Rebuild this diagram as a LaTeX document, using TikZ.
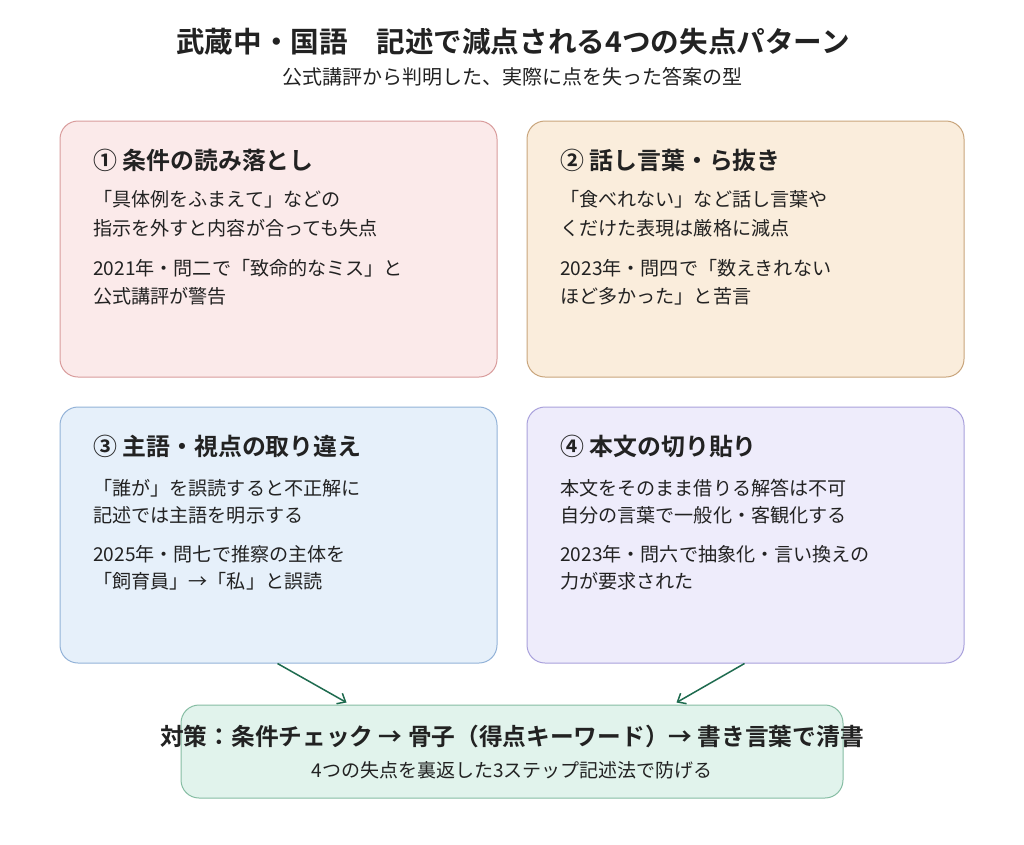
\documentclass[tikz,border=0pt]{standalone}
\usepackage{fontspec}
\setmainfont{Noto Sans CJK JP}[BoldFont={Noto Sans CJK JP Bold}]
\usetikzlibrary{arrows.meta,calc}
\definecolor{f1}{HTML}{FBEAEA}\definecolor{d1}{HTML}{D99C9C}
\definecolor{f2}{HTML}{FAEDDC}\definecolor{d2}{HTML}{C9A57C}
\definecolor{f3}{HTML}{E6F0FA}\definecolor{d3}{HTML}{93B3D8}
\definecolor{f4}{HTML}{EEECFB}\definecolor{d4}{HTML}{A9A1DC}
\definecolor{f5}{HTML}{E1F3EC}\definecolor{d5}{HTML}{86BDA3}
\definecolor{txt}{HTML}{222222}
\definecolor{arr}{HTML}{1E6B4F}
\tikzset{
  card/.style={rounded corners=18pt, line width=1pt, minimum width=437pt, minimum height=256pt, inner sep=0pt},
  head/.style={anchor=west, inner sep=0pt, text=txt, font=\fontsize{23.9}{28}\selectfont\bfseries},
  body/.style={anchor=west, inner sep=0pt, text=txt, font=\fontsize{19.1}{22}\selectfont},
  link/.style={draw=arr, line width=1.5pt, -{Straight Barb[length=7pt,width=12pt]}},
}
\begin{document}
\begin{tikzpicture}[x=1pt,y=-1pt]
\useasboundingbox[fill=white] (0,0) rectangle (1024,844);
\node[inner sep=0pt, text=txt, font=\fontsize{28.6}{32}\selectfont\bfseries] (title) at (513,42) {武蔵中・国語　記述で減点される4つの失点パターン};
\node[inner sep=0pt, text=txt, font=\fontsize{20}{24}\selectfont] (sub) at (512,77) {公式講評から判明した、実際に点を失った答案の型};

\node[card, fill=f1, draw=d1] (b1) at (278.5,249) {};
\node[card, fill=f2, draw=d2] (b2) at (745.5,249) {};
\node[card, fill=f3, draw=d3] (b3) at (278.5,535) {};
\node[card, fill=f4, draw=d4] (b4) at (745.5,535) {};
\node[rounded corners=18pt, line width=1pt, minimum width=662pt, minimum height=93pt, inner sep=0pt, fill=f5, draw=d5] (b5) at (512,751.5) {};

% box 1
\node[head] (h1) at (93,160) {① 条件の読み落とし};
\node[body] (t1a) at (93,199) {「具体例をふまえて」などの};
\node[body] (t1b) at (93,228) {指示を外すと内容が合っても失点};
\node[body] (t1c) at (93,268) {2021年・問二で「致命的なミス」と};
\node[body] (t1d) at (93,296) {公式講評が警告};
% box 2
\node[head] (h2) at (560,160) {② 話し言葉・ら抜き};
\node[body] (t2a) at (560,199) {「食べれない」など話し言葉や};
\node[body] (t2b) at (560,228) {くだけた表現は厳格に減点};
\node[body] (t2c) at (560,268) {2023年・問四で「数えきれない};
\node[body] (t2d) at (560,296) {ほど多かった」と苦言};
% box 3
\node[head] (h3) at (93,446) {③ 主語・視点の取り違え};
\node[body] (t3a) at (93,488) {「誰が」を誤読すると不正解に};
\node[body] (t3b) at (93,515) {記述では主語を明示する};
\node[body] (t3c) at (93,554) {2025年・問七で推察の主体を};
\node[body] (t3d) at (93,581) {「飼育員」→「私」と誤読};
% box 4
\node[head] (h4) at (560,446) {④ 本文の切り貼り};
\node[body] (t4a) at (560,488) {本文をそのまま借りる解答は不可};
\node[body] (t4b) at (560,515) {自分の言葉で一般化・客観化する};
\node[body] (t4c) at (560,554) {2023年・問六で抽象化・言い換えの};
\node[body] (t4d) at (560,581) {力が要求された};
% bottom
\node[inner sep=0pt, text=txt, font=\fontsize{23.7}{28}\selectfont\bfseries] (m1) at (512,736) {対策：条件チェック → 骨子（得点キーワード）→ 書き言葉で清書};
\node[inner sep=0pt, text=txt, font=\fontsize{19}{22}\selectfont] (m2) at (512,770) {4つの失点を裏返した3ステップ記述法で防げる};

\coordinate (a1s) at ($(b3.south west)+(218,0)$);
\coordinate (a1e) at ($(b5.north west)+(166,-2)$);
\coordinate (a2s) at ($(b4.south west)+(218,0)$);
\coordinate (a2e) at ($(b5.north west)+(496,-2)$);
\draw[link] (a1s) -- (a1e);
\draw[link] (a2s) -- (a2e);
\end{tikzpicture}
\end{document}
